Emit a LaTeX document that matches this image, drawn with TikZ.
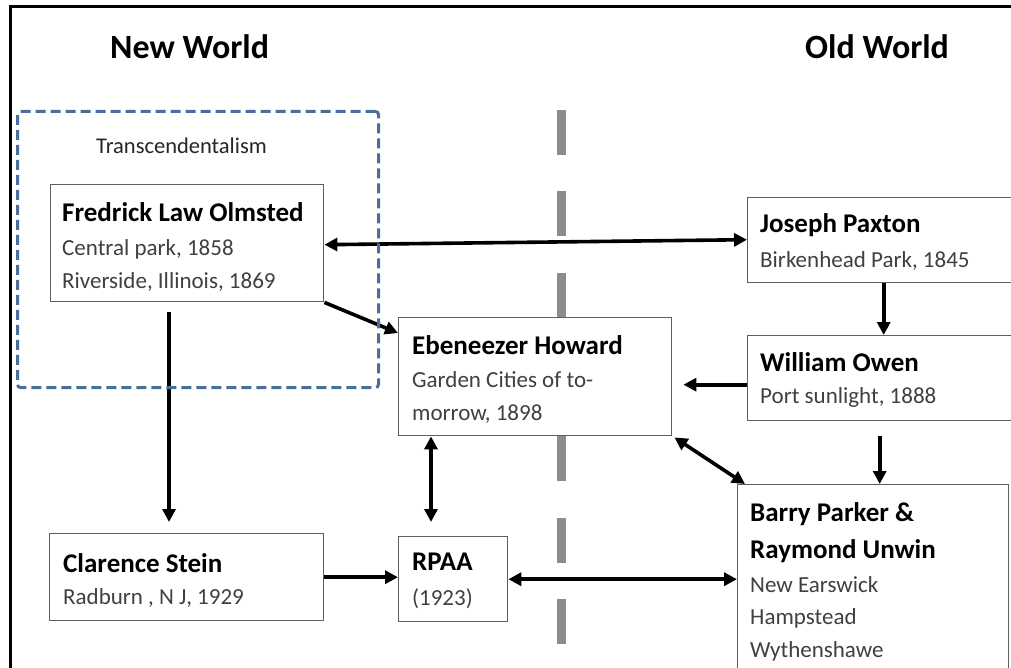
\documentclass[tikz,border=0pt]{standalone}
\usepackage{fontspec}
\setmainfont{Carlito}
\usetikzlibrary{calc,arrows.meta}
\definecolor{boxgray}{HTML}{5F5F5F}
\definecolor{subgray}{HTML}{404040}
\definecolor{tblue}{HTML}{4A6E9E}
\definecolor{dashgray}{HTML}{8C8C8C}
\begin{document}
\begin{tikzpicture}[x=1pt,y=-1pt,
  box/.style={draw=boxgray, line width=1.4pt, fill=white, inner sep=0pt, anchor=north west},
  nm/.style={anchor=base west, inner sep=0pt, text=black, font=\fontsize{27}{32}\selectfont\bfseries},
  sub/.style={anchor=base west, inner sep=0pt, text=subgray, font=\fontsize{23}{28}\selectfont},
  ttl/.style={anchor=base west, inner sep=0pt, text=black, font=\fontsize{34}{40}\selectfont\bfseries},
  arr/.style={line width=3.6pt, -{Triangle[length=13pt,width=13pt]}},
  biarr/.style={line width=3.6pt, {Triangle[length=13pt,width=13pt]}-{Triangle[length=13pt,width=13pt]}}
]
\useasboundingbox (0,0) rectangle (1011,668);
\clip (0,0) rectangle (1011,668);
\fill[white] (0,0) rectangle (1011,668);
% frame
\draw[line width=3pt] (10,672) -- (10,7) -- (1015,7);
% divider
\draw[dashgray, line width=9pt, dash pattern=on 45pt off 36.5pt] (561,110) -- (561,680);
% titles
\node[ttl] (nw) at (110,59) {New World};
\node[ttl] (ow) at (805,59) {Old World};
% boxes
\node[box, minimum width=273pt, minimum height=117pt] (olm) at (50,184) {};
\node[box, minimum width=264pt, minimum height=85pt] (pax) at (747,197) {};
\node[box, minimum width=273pt, minimum height=118pt] (how) at (398,317) {};
\node[box, minimum width=264pt, minimum height=85pt] (owe) at (747,335) {};
\node[box, minimum width=271pt, minimum height=220pt] (par) at (737,484) {};
\node[box, minimum width=274pt, minimum height=87pt] (cla) at (49,533) {};
\node[box, minimum width=109pt, minimum height=85pt] (rpa) at (398,536) {};
% texts
\node[nm] (olmA) at (62,222) {Fredrick Law Olmsted};
\node[sub] (olmB) at (62,255) {Central park, 1858};
\node[sub] (olmC) at (62,288) {Riverside, Illinois, 1869};
\node[nm] (paxA) at (760,233) {Joseph Paxton};
\node[sub] (paxB) at (760,267) {Birkenhead Park, 1845};
\node[nm] (oweA) at (760,371) {William Owen};
\node[sub] (oweB) at (760,403) {Port sunlight, 1888};
\node[nm] (howA) at (412,354) {Ebeneezer Howard};
\node[sub] (howB) at (412,387) {Garden Cities of to-};
\node[sub] (howC) at (412,420) {morrow, 1898};
\node[nm] (parA) at (750,521) {Barry Parker \&};
\node[nm] (parB) at (750,558) {Raymond Unwin};
\node[sub] (parC) at (750,592) {New Earswick};
\node[sub] (parD) at (750,624) {Hampstead};
\node[sub] (parE) at (750,657) {Wythenshawe};
\node[nm] (claA) at (63,572) {Clarence Stein};
\node[sub] (claB) at (63,604) {Radburn , N J, 1929};
\node[nm] (rpaA) at (412,570) {RPAA};
\node[sub] (rpaB) at (412,605) {(1923)};
% connectors
\draw[biarr] ($(olm.east)+(0,1.5)$) -- ($(pax.west)+(0,-0.5)$);
\draw[arr] (olm.south east) -- ($(how.north west)+(0,16)$);
\draw[arr] ($(olm.south west)+(119,10)$) -- ($(cla.north west)+(120,-11)$);
\draw[arr] ($(pax.south)+(4,0)$) -- ($(owe.north)+(4,0)$);
\draw[arr] ($(owe.west)+(0,6.5)$) -- ($(how.east)+(11,8)$);
\draw[arr] ($(owe.south)+(0,15)$) -- (owe.south |- par.north);
\draw[biarr] ($(how.south east)+(2,1)$) -- ($(par.north west)+(8,0)$);
\draw[biarr] ($(how.south west)+(33,0)$) -- ($(rpa.north west)+(33,-14)$);
\draw[arr] (cla.east) -- (cla.east -| rpa.west);
\draw[biarr] (rpa.east) -- (par.west |- rpa.east);
% transcendentalism group
\node[draw=tblue, line width=3pt, dash pattern=on 10pt off 5pt, rounded corners=3pt,
      minimum width=361pt, minimum height=276pt, inner sep=0pt, anchor=north west] (trans) at (16,110) {};
\node[anchor=base west, inner sep=0pt, text=black!85, font=\fontsize{22.5}{26}\selectfont] (transT) at (96,154) {Transcendentalism};
\end{tikzpicture}
\end{document}
